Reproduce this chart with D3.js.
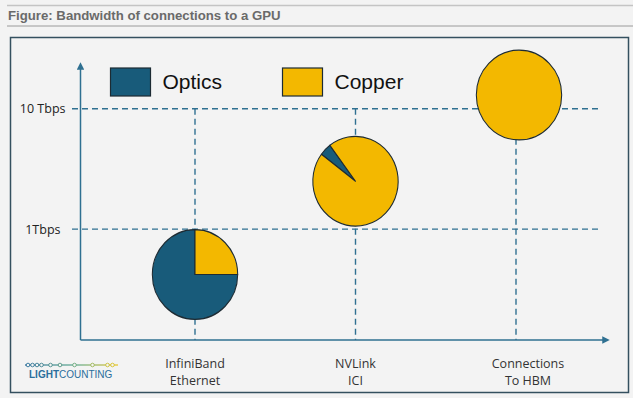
<!DOCTYPE html>
<html>
<head>
<meta charset="utf-8">
<script src="https://cdn.jsdelivr.net/npm/d3@7"></script>
<style>
  html, body { margin: 0; padding: 0; background: #f3f3f3; }
  svg { display: block; font-family: "Liberation Sans", Arial, sans-serif; }
</style>
</head>
<body>
<svg id="chart" width="633" height="398"></svg>
<script>
// data
const categories = ['InfiniBand\nEthernet', 'NVLink\nICI', 'Connections\nTo HBM'];
const bandwidth = [0.42, 2.5, 13];        // Tbps, where each pie sits
const opticsShare = [75, 4.5, 0];         // % of links that are optical
const copperShare = [25, 95.5, 100];      // % of links that are copper
const pieStart = [90, 307, 0];            // degrees, where optics slice begins
const seriesNames = ['Optics', 'Copper'];
const tickValues = [1, 10];
const tickLabels = ['1Tbps', '10 Tbps'];

const W = 633, H = 398;
const colors = {Optics: '#185b7a', Copper: '#f3b800'};
const axisColor = '#2f7091';
const labelFont = '"Open Sans", "Liberation Sans", sans-serif';

const svg = d3.select('#chart');

// title block
svg.append('line').attr('x1', 7).attr('x2', W).attr('y1', 5.5).attr('y2', 5.5)
  .attr('stroke', '#c4c4c4').attr('stroke-width', 1.5);
svg.append('text').attr('x', 8).attr('y', 19.5)
  .attr('font-size', 13.2).attr('font-weight', 'bold').attr('fill', '#6a6a6a')
  .text('Figure: Bandwidth of connections to a GPU');
svg.append('line').attr('x1', 7).attr('x2', W).attr('y1', 26).attr('y2', 26)
  .attr('stroke', '#9a9a9a').attr('stroke-width', 1);

// frame
svg.append('rect').attr('x', 10.5).attr('y', 37.5).attr('width', 618).attr('height', 355)
  .attr('fill', '#f3f3f3').attr('stroke', '#34505f').attr('stroke-width', 1.5);

// scales
const x = d3.scalePoint().domain(categories).range([195, 516]);
const y = d3.scaleLog().domain([0.12, 24]).range([340, 63]);

const plotLeft = 80.5, plotRight = 602;

// dashed guides
const guides = svg.append('g')
  .attr('stroke', axisColor).attr('stroke-width', 1.4).attr('stroke-dasharray', '6,4');

guides.selectAll('.h').data(tickValues).enter().append('line')
  .attr('x1', 72).attr('x2', plotRight)
  .attr('y1', d => y(d)).attr('y2', d => y(d));

guides.selectAll('.v').data(categories).enter().append('line')
  .attr('x1', d => x(d)).attr('x2', d => x(d))
  .attr('y1', y(10)).attr('y2', y(0.12));

// axes
svg.append('defs').append('marker')
  .attr('id', 'arrow').attr('viewBox', '0 0 10 10').attr('refX', 5).attr('refY', 5)
  .attr('markerWidth', 5).attr('markerHeight', 5).attr('orient', 'auto-start-reverse')
  .append('path').attr('d', 'M0,0L10,5L0,10z').attr('fill', axisColor);

svg.append('line').attr('x1', plotLeft).attr('x2', plotLeft)
  .attr('y1', y(0.12)).attr('y2', 66)
  .attr('stroke', axisColor).attr('stroke-width', 1.5).attr('marker-end', 'url(#arrow)');
svg.append('line').attr('x1', plotLeft).attr('x2', 606)
  .attr('y1', y(0.12)).attr('y2', y(0.12))
  .attr('stroke', axisColor).attr('stroke-width', 1.5).attr('marker-end', 'url(#arrow)');

// y tick labels
const yAxis = d3.axisLeft(y).tickValues(tickValues).tickSize(0).tickPadding(0)
  .tickFormat((d, i) => tickLabels[i]);
const yg = svg.append('g').attr('transform', `translate(${plotLeft},0)`).call(yAxis);
yg.select('.domain').remove();
yg.selectAll('text')
  .attr('x', (d, i) => i === 0 ? -20 : -15)
  .attr('font-size', 12.5).attr('fill', '#222').attr('font-family', labelFont);

// x category labels
const xl = svg.append('g').selectAll('text').data(categories).enter().append('text')
  .attr('text-anchor', 'middle').attr('font-size', 12.5).attr('fill', '#333')
  .attr('font-family', labelFont)
  .attr('transform', (d, i) => `translate(${x(d) + (i === 2 ? 12 : 0)},368)`);
xl.selectAll('tspan').data(d => d.split('\n')).enter().append('tspan')
  .attr('x', 0).attr('dy', (d, i) => i ? 17 : 0).text(d => d);

// pies
const arc = d3.arc().innerRadius(0).outerRadius(44);
categories.forEach((c, i) => {
  const start = pieStart[i] * Math.PI / 180;
  const pie = d3.pie().sort(null).value(d => d.v)
    .startAngle(start).endAngle(start + 2 * Math.PI);
  const slices = pie([
    {name: 'Optics', v: opticsShare[i]},
    {name: 'Copper', v: copperShare[i]}
  ]).filter(s => s.data.v > 0);
  svg.append('g')
    .attr('transform', `translate(${x(c) + (i === 2 ? 3 : 0)},${y(bandwidth[i])}) scale(0.97,1.02)`)
    .selectAll('path').data(slices).enter().append('path')
    .attr('d', arc)
    .attr('fill', d => colors[d.data.name])
    .attr('stroke', '#1d2b33').attr('stroke-width', 1.1)
    .attr('stroke-linejoin', 'round');
});

// legend
const legendX = [110.5, 282.5];
const legend = svg.append('g').selectAll('g').data(seriesNames).enter().append('g')
  .attr('transform', (d, i) => `translate(${legendX[i]},68)`);
legend.append('rect').attr('width', 40).attr('height', 28)
  .attr('fill', d => colors[d]).attr('stroke', '#1d2b33').attr('stroke-width', 1.2);
legend.append('text').attr('x', 52).attr('y', 21)
  .attr('font-size', 21).attr('fill', '#111').text(d => d);

// logo
const logo = svg.append('g');
const grad = svg.select('defs').append('linearGradient').attr('id', 'lc')
  .attr('x1', '0%').attr('x2', '100%');
grad.append('stop').attr('offset', '0%').attr('stop-color', '#2a6e9c');
grad.append('stop').attr('offset', '55%').attr('stop-color', '#5aa88a');
grad.append('stop').attr('offset', '100%').attr('stop-color', '#e8c41e');
logo.append('rect').attr('x', 25).attr('y', 364.4).attr('width', 93).attr('height', 1.2)
  .attr('fill', 'url(#lc)');
const dots = [28, 32.5, 37, 41.5, 50.5, 60, 74.5, 92.5, 107.5, 112.5];
const dotColor = d3.scaleLinear().domain([25, 75, 118]).range(['#2a6e9c', '#6aaa7c', '#e8c41e']);
logo.selectAll('circle').data(dots).enter().append('circle')
  .attr('cx', d => d).attr('cy', 365).attr('r', 1.8)
  .attr('fill', '#f3f3f3').attr('stroke', d => dotColor(d)).attr('stroke-width', 0.9);
const lt = logo.append('text').attr('x', 29).attr('y', 377.5)
  .attr('font-size', 10).attr('fill', '#2a6e9c');
lt.append('tspan').attr('font-weight', 'bold').text('LIGHT');
lt.append('tspan').text('COUNTING');
</script>
</body>
</html>
